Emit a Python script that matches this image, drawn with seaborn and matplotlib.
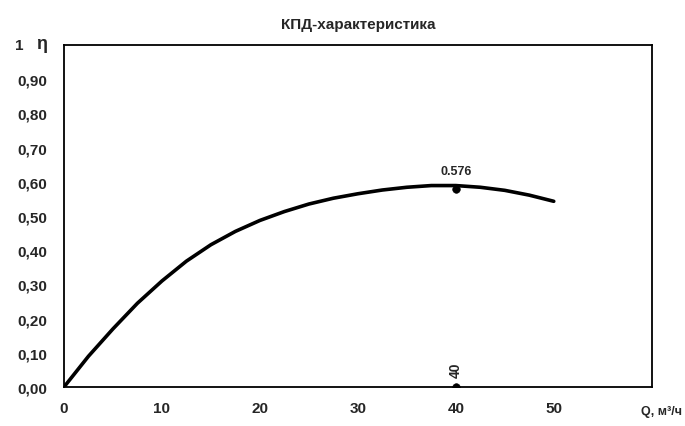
import matplotlib
matplotlib.use("Agg")
import matplotlib.pyplot as plt
import seaborn as sns
import pandas as pd

# Kurve KPD (eta) ueber Foerderstrom Q
q_values = [0, 2.5, 5, 7.5, 10, 12.5, 15, 17.5, 20, 22.5, 25, 27.5, 30,
            32.5, 35, 37.5, 40, 42.5, 45, 47.5, 50]
eta_values = [0.0, 0.09, 0.17, 0.245, 0.31, 0.368, 0.416, 0.455, 0.487, 0.513,
              0.535, 0.552, 0.565, 0.576, 0.584, 0.589, 0.589, 0.584, 0.575, 0.561, 0.543]

# Betriebspunkt
point_q = [40, 40]
point_eta = [0.578, 0.0]
point_labels = ["0.576", "40"]

x_ticks = [0, 10, 20, 30, 40, 50]
y_ticks = [0.0, 0.1, 0.2, 0.3, 0.4, 0.5, 0.6, 0.7, 0.8, 0.9, 1.0]
# die "1" oben wird separat links vom eta-Zeichen gesetzt
y_ticklabels = ["0,00", "0,10", "0,20", "0,30", "0,40", "0,50", "0,60", "0,70", "0,80", "0,90", ""]

sns.set_style("white")
plt.rcParams["font.family"] = ["Liberation Sans", "DejaVu Sans"]
plt.rcParams["font.weight"] = "bold"

fig = plt.figure(figsize=(6.85, 4.27), dpi=100)
ax = fig.add_axes([0.0934, 0.0913, 0.858, 0.801])

curve = pd.DataFrame({"Q": q_values, "eta": eta_values})
sns.lineplot(data=curve, x="Q", y="eta", ax=ax, color="black", linewidth=2.6)

pts = pd.DataFrame({"Q": point_q, "eta": point_eta})
sns.scatterplot(data=pts, x="Q", y="eta", ax=ax, color="black", s=30, edgecolor="black", zorder=5)

ax.text(point_q[0], point_eta[0] + 0.035, point_labels[0], ha="center", va="bottom",
        fontsize=9, fontweight="bold")
ax.text(point_q[1], point_eta[1] + 0.03, point_labels[1], ha="center", va="bottom",
        fontsize=10, fontweight="bold", rotation=90)

ax.set_xlim(0, 60)
ax.set_ylim(0, 1)
ax.set_xticks(x_ticks)
ax.set_xticklabels([str(t) for t in x_ticks], fontsize=11, fontweight="bold")
ax.set_yticks(y_ticks)
ax.set_yticklabels(y_ticklabels, fontsize=11, fontweight="bold")
ax.tick_params(axis="y", direction="out", length=4, width=1, color="black", pad=8)
ax.tick_params(axis="x", direction="in", length=3, width=1, color="black", pad=10)
ax.set_xlabel("")
ax.set_ylabel("")

for side in ["left", "right", "top", "bottom"]:
    ax.spines[side].set_visible(True)
    ax.spines[side].set_color("black")
    ax.spines[side].set_linewidth(1.3)

ax.set_title("КПД-характеристика", fontsize=11, fontweight="bold", pad=12)
fig.text(0.028, 0.892, "1", fontsize=11, fontweight="bold", ha="center", va="center")
fig.text(0.060, 0.895, "η", fontsize=13, fontweight="bold", ha="center", va="center")
fig.text(0.995, 0.035, "Q, м³/ч", fontsize=9, fontweight="bold", ha="right", va="center")

fig.savefig("out.png", dpi=100)
